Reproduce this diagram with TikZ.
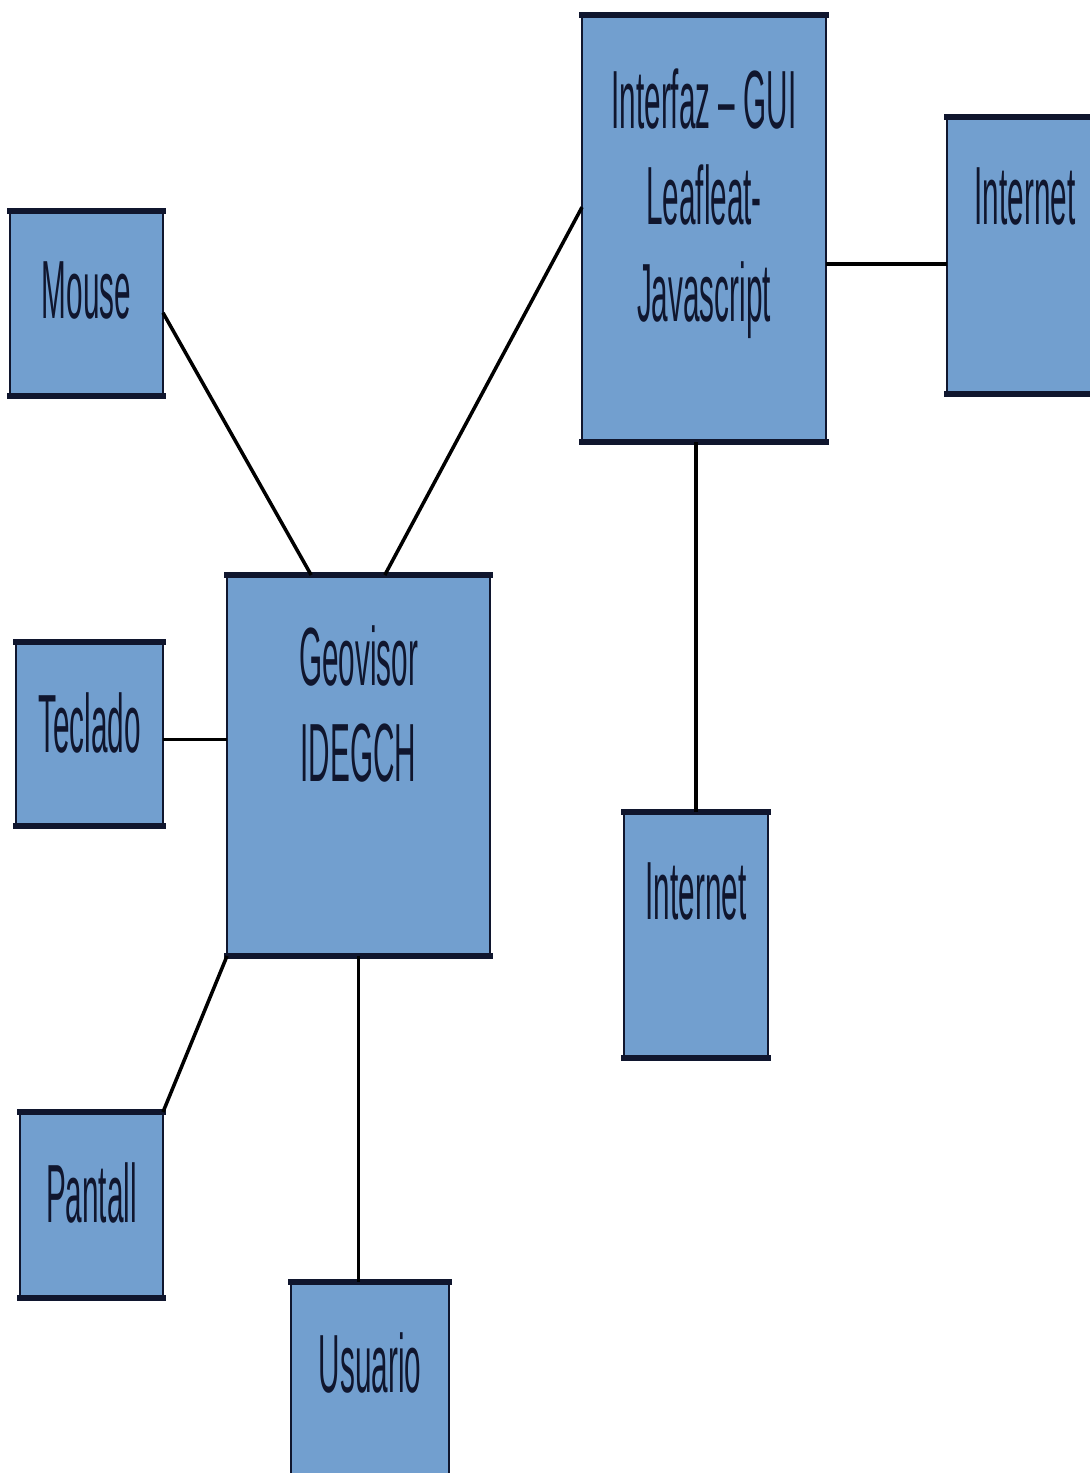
\documentclass[tikz,border=0pt]{standalone}
\usepackage{graphicx}
\usepackage{fontspec}
\setmainfont{Liberation Sans}
\usetikzlibrary{positioning, calc}
\definecolor{boxblue}{RGB}{114,159,207}
\definecolor{ink}{RGB}{16,22,46}
\newcommand{\nrw}[1]{\scalebox{0.36}[1]{#1}}

\begin{document}
\begin{tikzpicture}[x=0.02cm, y=-0.02cm,
    box/.style={draw=ink, line width=1.1pt, fill=boxblue, inner sep=0pt, outer sep=0pt},
    rim/.style={draw=ink, line width=3.2pt, line cap=rect},
    lbl/.style={inner sep=0pt, text=ink, align=center, font=\fontsize{47}{55}\selectfont},
    link/.style={draw=black, line width=2pt}]
    \useasboundingbox (0,0) rectangle (1089,1473);
    % Boxes
    \node[box, minimum width=3.06cm, minimum height=3.7cm] (mouse) at (86.5,303.5) {};
    \node[box, minimum width=4.88cm, minimum height=8.54cm] (gui) at (704,228.5) {};
    \node[box, minimum width=3.12cm, minimum height=5.54cm] (netR) at (1025,255.5) {};
    \node[box, minimum width=5.26cm, minimum height=7.62cm] (geo) at (358.5,765.5) {};
    \node[box, minimum width=2.94cm, minimum height=3.68cm] (teclado) at (89.5,734) {};
    \node[box, minimum width=2.88cm, minimum height=4.92cm] (netM) at (696,935) {};
    \node[box, minimum width=2.86cm, minimum height=3.72cm] (pantall) at (91.5,1205) {};
    \node[box, minimum width=3.16cm, minimum height=4.16cm] (usuario) at (370,1386) {};
    % Thick top and bottom edges
    \foreach \n in {mouse, gui, netR, geo, teclado, netM, pantall, usuario}
      \draw[rim] (\n.north west) -- (\n.north east) (\n.south west) -- (\n.south east);
    % Labels
    \node[lbl, below=1cm of mouse.north] (mouse-t) {\nrw{Mouse}};
    \node[lbl, below=1.06cm of gui.north] (gui-t) {\nrw{Interfaz – GUI}\\\nrw{Leafleat-}\\\nrw{Javascript}};
    \node[lbl, below=1cm of netR.north] (netR-t) {\nrw{Internet}};
    \node[lbl, below=1cm of geo.north] (geo-t) {\nrw{Geovisor}\\\nrw{IDEGCH}};
    \node[lbl, below=1cm of teclado.north] (teclado-t) {\nrw{Teclado}};
    \node[lbl, below=1cm of netM.north] (netM-t) {\nrw{Internet}};
    \node[lbl, below=1cm of pantall.north] (pantall-t) {\nrw{Pantall}};
    \node[lbl, below=1cm of usuario.north] (usuario-t) {\nrw{Usuario}};
    % Connector ends
    \coordinate (mouse-e) at ($(mouse.north east)!0.55!(mouse.south east)$);
    \coordinate (geo-a) at ($(geo.north west)!0.32!(geo.north east)$);
    \coordinate (geo-b) at ($(geo.north west)!0.6!(geo.north east)$);
    \coordinate (gui-w) at ($(gui.north west)!0.45!(gui.south west)$);
    \coordinate (netR-w) at ($(netR.north west)!0.53!(netR.south west)$);
    \coordinate (teclado-e) at ($(teclado.north east)!0.53!(teclado.south east)$);
    % Connectors
    \draw[link] (mouse-e) -- (geo-a);
    \draw[link] (geo-b) -- (gui-w);
    \draw[link] (netR-w) -- (netR-w -| gui.east);
    \draw[link] (netM.north) -- (netM.north |- gui.south);
    \draw[link] (teclado-e) -- (teclado-e -| geo.west);
    \draw[link] (geo.south west) -- (pantall.north east);
    \draw[link] (geo.south) -- (geo.south |- usuario.north);
\end{tikzpicture}
\end{document}
